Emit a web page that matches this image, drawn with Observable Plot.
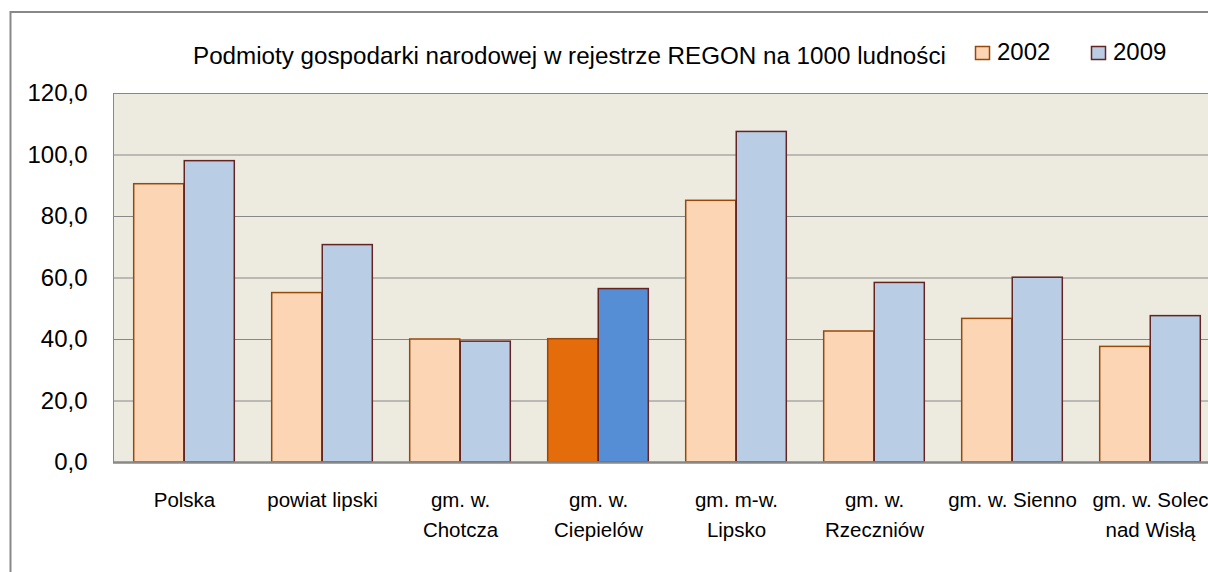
<!DOCTYPE html>
<html>
<head>
<meta charset="utf-8">
<script src="https://cdn.jsdelivr.net/npm/d3@7"></script>
<script src="https://cdn.jsdelivr.net/npm/@observablehq/plot@0.6"></script>
<style>
  html, body { margin: 0; padding: 0; background: #fff; }
  #wrap { position: relative; width: 1208px; height: 572px; overflow: hidden; font-family: "Liberation Sans", Arial, sans-serif; }
  #chart { position: absolute; left: 0; top: 0; width: 1232px; }
  #chart svg { max-width: none !important; }
  #overlay { position: absolute; left: 0; top: 0; pointer-events: none; }
</style>
</head>
<body>
<div id="wrap">
  <div id="chart"></div>
  <svg id="overlay" width="1208" height="572"></svg>
</div>
<script>
// ---- data ----
const categories = ["Polska", "powiat lipski", "gm. w.\nChotcza", "gm. w.\nCiepielów", "gm. m-w.\nLipsko", "gm. w.\nRzeczniów", "gm. w. Sienno", "gm. w. Solec\nnad Wisłą"];
const values2002 = [90.5, 55.1, 40.0, 40.1, 85.1, 42.6, 46.7, 37.6];
const values2009 = [98.0, 70.7, 39.3, 56.4, 107.5, 58.4, 60.1, 47.6];
const years = ["2002", "2009"];
const highlighted = "gm. w.\nCiepielów";
const yTicks = [0, 20, 40, 60, 80, 100, 120];
const titleText = "Podmioty gospodarki narodowej w rejestrze REGON na 1000 ludności";

// ---- styles ----
const fill2002 = "#FCD5B5", stroke2002 = "#984807", hi2002 = "#E46C0A";
const fill2009 = "#B9CDE5", stroke2009 = "#632523", hi2009 = "#558ED5";
const bg = "#EDEADF", gridColor = "#888888";
const font = "'Liberation Sans', Arial, sans-serif";

const W = 1232, H = 572;
const mL = 113, mR = 11, mT = 93, mB = 110;
const band = (W - mL - mR) / categories.length;
const gap = band * 0.135;         // outer gap on each side of the pair
const barW = (band - 2 * gap) / 2;

const rows2002 = categories.map((c, i) => ({cat: c, v: values2002[i], fill: c === highlighted ? hi2002 : fill2002}));
const rows2009 = categories.map((c, i) => ({cat: c, v: values2009[i], fill: c === highlighted ? hi2009 : fill2009}));

const chart = Plot.plot({
  width: W, height: H,
  marginLeft: mL, marginRight: mR, marginTop: mT, marginBottom: mB,
  style: {fontFamily: font, fontSize: "24px", color: "#000", background: "transparent", maxWidth: "none"},
  x: {domain: categories, padding: 0, axis: null},
  y: {domain: [0, 120], ticks: yTicks, tickSize: 0, tickPadding: 26, label: null,
      tickFormat: d => d.toFixed(1).replace(".", ",")},
  color: {type: "identity"},
  marks: [
    Plot.frame({fill: bg, stroke: gridColor, strokeWidth: 1}),
    Plot.ruleY(yTicks, {stroke: gridColor, strokeWidth: 1.2}),
    Plot.barY(rows2002, {x: "cat", y: "v", fill: "fill", stroke: stroke2002, strokeWidth: 1.5,
      insetLeft: gap, insetRight: gap + barW}),
    Plot.barY(rows2009, {x: "cat", y: "v", fill: "fill", stroke: stroke2009, strokeWidth: 1.5,
      insetLeft: gap + barW, insetRight: gap}),
    Plot.ruleY([0], {stroke: gridColor, strokeWidth: 2.5}),
    Plot.text(categories, {x: d => d, frameAnchor: "bottom", lineAnchor: "top", dy: 24,
      lineHeight: 1.44, fontSize: 20.5, fill: "#000"})
  ]
});
chart.style.maxWidth = "none";
document.getElementById("chart").appendChild(chart);

// ---- title, legend, outer border ----
const ov = d3.select("#overlay");
ov.append("line").attr("x1", 10).attr("x2", 1208).attr("y1", 12).attr("y2", 12).attr("stroke", "#888").attr("stroke-width", 2);
ov.append("line").attr("x1", 10.5).attr("x2", 10.5).attr("y1", 11).attr("y2", 572).attr("stroke", "#888").attr("stroke-width", 2);
ov.append("text").attr("x", 193).attr("y", 64).attr("font-family", font).attr("font-size", 24.2).attr("fill", "#000").text(titleText);
const legendItems = [
  {label: years[0], fill: fill2002, stroke: stroke2002, x: 975},
  {label: years[1], fill: fill2009, stroke: stroke2009, x: 1091}
];
legendItems.forEach(it => {
  ov.append("rect").attr("x", it.x + 0.5).attr("y", 46.5).attr("width", 14).attr("height", 13)
    .attr("fill", it.fill).attr("stroke", it.stroke).attr("stroke-width", 1.5);
  ov.append("text").attr("x", it.x + 22).attr("y", 60).attr("font-family", font).attr("font-size", 24)
    .attr("fill", "#000").text(it.label);
});
</script>
</body>
</html>
